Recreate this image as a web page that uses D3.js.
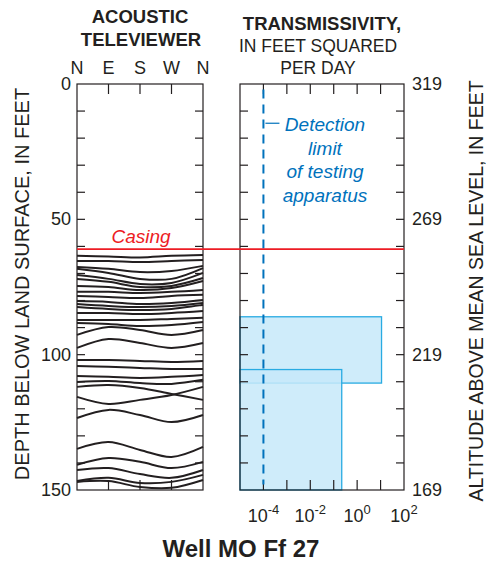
<!DOCTYPE html>
<html><head><meta charset="utf-8">
<script src="https://cdn.jsdelivr.net/npm/d3@7"></script>
<style>body{margin:0;background:#fff}svg{display:block}text{font-family:"Liberation Sans",Arial,Helvetica,sans-serif;fill:#231f20}</style>
</head><body>
<script>
// ---- data ----
const compassLabels = ["N","E","S","W","N"];
const depthTicks = [0,50,100,150];
const altitudeLabels = ["319","269","219","169"];
const transExponents = [-4,-2,0,2];
const casingDepth = 61;
const detectionLimit = 1e-4;
const intervalTop = [86, 105.5];
const intervalBottom = [110.5, 150];
const intervalTransmissivity = [11, 0.22];
// fracture traces: depth (ft) at N, E, S, W, N
const fractures = [
 [63.5,63.7,64.1,63.5,63.2],[65.4,65.4,65.8,65.4,65.0],[67.6,68.3,69.5,69.1,67.2],
 [68.3,69.8,72.0,72.0,68.0],[70.6,72.0,73.9,73.5,69.8],[72.0,73.1,75.0,74.6,71.7],
 [74.6,75.0,76.1,75.4,72.8],[76.8,76.8,77.2,76.8,76.1],[78.3,78.7,79.1,78.3,77.9],
 [80.2,80.5,81.3,80.9,79.8],[81.3,82.0,82.4,82.0,80.9],[82.4,83.1,83.5,83.1,81.6],
 [84.6,84.6,85.0,84.6,83.9],[87.2,87.2,87.2,86.8,86.4],[88.3,88.7,89.4,89.0,87.9],
 [92.7,89.8,90.9,92.7,90.9],[97.5,94.2,95.7,97.5,95.7],[102.0,102.0,102.3,102.7,102.3],
 [104.2,104.5,104.9,105.3,105.3],[107.9,108.2,108.6,108.2,107.5],[110.1,109.7,110.5,110.8,109.3],
 [111.9,111.2,112.3,114.5,116.7],[115.6,118.2,116.7,114.9,111.9],[123.4,120.4,122.3,124.9,122.3],
 [134.8,132.3,135.2,137.8,134.1],[140.7,138.2,139.6,141.9,139.6],[142.6,141.9,144.1,145.5,142.6],
 [146.7,145.5,147.4,147.0,144.4],[147.0,146.7,148.9,149.2,146.3]
];

const W = 486, H = 567;
const svg = d3.select("body").append("svg").attr("width",W).attr("height",H);

const L = {x0:77, x1:203}, R = {x0:240, x1:404};
const y = d3.scaleLinear().domain([0,150]).range([84,490]);
const xAz = d3.scalePoint().domain(d3.range(5)).range([L.x0,L.x1]);
const xT = d3.scaleLog().domain([1e-5,1e2]).range([R.x0,R.x1]);

const ink = "#231f20", red = "#ed1c24", blue = "#0072bc";

// transmissivity intervals
const ivals = intervalTop.map((t,i)=>({top:t,bottom:intervalBottom[i],v:intervalTransmissivity[i]}));
svg.append("g").selectAll("rect").data(ivals).join("rect")
  .attr("x",xT(1e-5)).attr("y",d=>y(d.top))
  .attr("width",d=>xT(d.v)-xT(1e-5)).attr("height",d=>y(d.bottom)-y(d.top))
  .attr("fill","#c7e9f9").attr("fill-opacity",0.85).attr("stroke","#29abe2").attr("stroke-width",1.3);

// fractures
const line = d3.line().x((d,i)=>xAz(i)).y(d=>y(d)).curve(d3.curveCatmullRom.alpha(0.5));
svg.append("g").selectAll("path").data(fractures).join("path")
  .attr("d",line).attr("fill","none").attr("stroke",ink).attr("stroke-width",2);

// frames
function frame(x0,x1){
  svg.append("rect").attr("x",x0).attr("y",y(0)).attr("width",x1-x0).attr("height",y(150)-y(0))
    .attr("fill","none").attr("stroke",ink).attr("stroke-width",1.2);
}
frame(L.x0,L.x1); frame(R.x0,R.x1);

// side ticks every 10 ft
const sideTicks = d3.range(10,150,10);
[[L.x0,1],[L.x1,-1],[R.x0,1],[R.x1,-1]].forEach(([x,dir])=>{
  svg.append("g").selectAll("line").data(sideTicks).join("line")
    .attr("x1",x).attr("x2",x+dir*8).attr("y1",d=>y(d)).attr("y2",d=>y(d))
    .attr("stroke",ink).attr("stroke-width",1.2);
});
// azimuth ticks (top & bottom)
[[y(0),1],[y(150),-1]].forEach(([yy,dir])=>{
  svg.append("g").selectAll("line").data(d3.range(1,4)).join("line")
    .attr("x1",d=>xAz(d)).attr("x2",d=>xAz(d)).attr("y1",yy).attr("y2",yy+dir*10)
    .attr("stroke",ink).attr("stroke-width",1.2);
});
// decade ticks (top & bottom)
const decades = d3.range(-4,2).map(e=>Math.pow(10,e));
[[y(0),1],[y(150),-1]].forEach(([yy,dir])=>{
  svg.append("g").selectAll("line").data(decades).join("line")
    .attr("x1",d=>xT(d)).attr("x2",d=>xT(d)).attr("y1",yy).attr("y2",yy+dir*10)
    .attr("stroke",ink).attr("stroke-width",1.2);
});

// detection limit dashed
svg.append("line").attr("x1",xT(detectionLimit)).attr("x2",xT(detectionLimit))
  .attr("y1",y(2)).attr("y2",y(148)).attr("stroke",blue).attr("stroke-width",2)
  .attr("stroke-dasharray","9,6");
svg.append("line").attr("x1",xT(detectionLimit)+2).attr("x2",xT(detectionLimit)+16)
  .attr("y1",y(14.5)).attr("y2",y(14.5)).attr("stroke",blue).attr("stroke-width",1.2);
const det = ["Detection","limit","of testing","apparatus"];
svg.append("g").selectAll("text").data(det).join("text")
  .attr("x",325).attr("y",(d,i)=>131+i*23.7).attr("text-anchor","middle")
  .style("font-style","italic").style("font-size","19px").style("fill",blue).text(d=>d);

// casing
svg.append("line").attr("x1",L.x0).attr("x2",R.x1).attr("y1",y(casingDepth)).attr("y2",y(casingDepth))
  .attr("stroke",red).attr("stroke-width",1.6);
svg.append("text").attr("x",141).attr("y",243).attr("text-anchor","middle")
  .style("font-style","italic").style("font-size","19px").style("fill",red).text("Casing");

// compass labels
svg.append("g").selectAll("text").data(compassLabels).join("text")
  .attr("x",(d,i)=>xAz(i)).attr("y",74).attr("text-anchor","middle")
  .style("font-size","18px").text(d=>d);

// depth labels
svg.append("g").selectAll("text").data(depthTicks).join("text")
  .attr("x",71).attr("y",d=>y(d)+6).attr("text-anchor","end").style("font-size","18px").text(d=>d);
svg.append("g").selectAll("text").data(altitudeLabels).join("text")
  .attr("x",412).attr("y",(d,i)=>y(depthTicks[i])+6).attr("text-anchor","start").style("font-size","18px").text(d=>d);

// log labels
const lg = svg.append("g").selectAll("text").data(transExponents).join("text")
  .attr("x",d=>xT(Math.pow(10,d))).attr("y",522).attr("text-anchor","middle").style("font-size","18px");
lg.append("tspan").text("10");
lg.append("tspan").attr("dy",-8).style("font-size","13px").text(d=>d<0?"-"+Math.abs(d):d);

// headers
const hb = {"font-weight":"bold","font-size":"18.5px"};
svg.append("text").attr("x",140).attr("y",23).attr("text-anchor","middle").style("font-weight","bold").style("font-size","18.5px").text("ACOUSTIC");
svg.append("text").attr("x",141).attr("y",46).attr("text-anchor","middle").style("font-weight","bold").style("font-size","18.5px").text("TELEVIEWER");
svg.append("text").attr("x",322).attr("y",30).attr("text-anchor","middle").style("font-weight","bold").style("font-size","18.5px").text("TRANSMISSIVITY,");
svg.append("text").attr("x",318).attr("y",52).attr("text-anchor","middle").style("font-size","17.5px").text("IN FEET SQUARED");
svg.append("text").attr("x",318).attr("y",74).attr("text-anchor","middle").style("font-size","17.5px").text("PER DAY");

// axis titles
svg.append("text").attr("transform","translate(29,284) rotate(-90)").attr("text-anchor","middle")
  .style("font-size","20px").text("DEPTH BELOW LAND SURFACE, IN FEET");
svg.append("text").attr("transform","translate(483,291) rotate(-90)").attr("text-anchor","middle")
  .style("font-size","19.5px").text("ALTITUDE ABOVE MEAN SEA LEVEL, IN FEET");

// title
svg.append("text").attr("x",241).attr("y",557).attr("text-anchor","middle").style("font-weight","bold").style("font-size","24px").text("Well MO Ff 27");
</script>
</body></html>
